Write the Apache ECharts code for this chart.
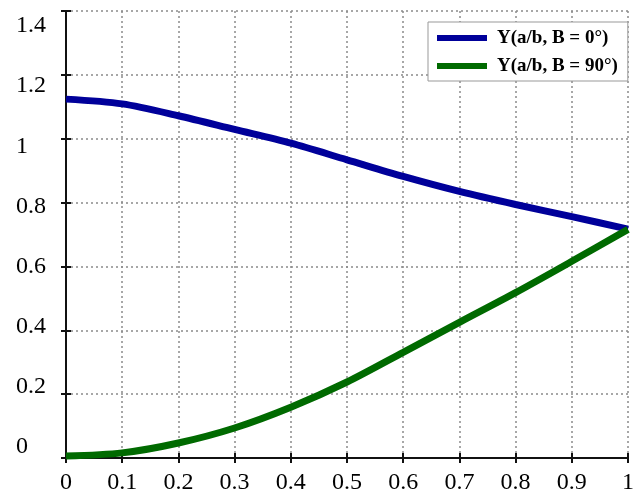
<!DOCTYPE html>
<html>
<head>
<meta charset="utf-8">
<script src="https://cdn.jsdelivr.net/npm/echarts@6/dist/echarts.min.js"></script>
<style>
    html, body { margin: 0; padding: 0; background: #fff; }
    #chart { width: 637px; height: 495px; }
</style>
</head>
<body>
<div id="chart"></div>
<script>
    // values
    var ratio = [0, 0.1, 0.2, 0.3, 0.4, 0.5, 0.6, 0.7, 0.8, 0.9, 1];
    var yB0  = [1.124, 1.109, 1.072, 1.029, 0.986, 0.934, 0.882, 0.835, 0.794, 0.756, 0.717];
    var yB90 = [0.006, 0.016, 0.047, 0.094, 0.159, 0.238, 0.331, 0.425, 0.518, 0.616, 0.716];
    var names = ['Y(a/b, B = 0°)', 'Y(a/b, B = 90°)'];

    function pairs(ys) {
        return ratio.map(function (x, i) { return [x, ys[i]]; });
    }

    var font = 'Liberation Serif, Times New Roman, serif';
    var gridLine = { show: true, lineStyle: { color: '#8a8a8a', width: 1.5, type: [2, 3] } };
    var frame = { show: true, lineStyle: { color: '#111', width: 2 } };
    var ticks = { show: true, inside: true, length: 5, lineStyle: { color: '#111', width: 2 } };

    var chart = echarts.init(document.getElementById('chart'));

    chart.setOption({
        animation: false,
        backgroundColor: '#fff',
        grid: [
            { left: 66, right: 5, top: 11, bottom: 36 },
            // label-only grid: the scanned y labels sit a little tighter than the ticks
            { left: 66, right: 5, top: 26, bottom: 48 }
        ],
        legend: {
            orient: 'vertical',
            left: 428,
            top: 22,
            padding: [6, 10, 5, 9],
            backgroundColor: '#fff',
            borderColor: '#999',
            borderWidth: 1,
            borderRadius: 0,
            icon: 'rect',
            itemWidth: 50,
            itemHeight: 6,
            itemGap: 8,
            textStyle: {
                fontFamily: font,
                fontSize: 19,
                fontWeight: 'bold',
                color: '#000',
                lineHeight: 20,
                padding: [0, 0, 0, 5]
            },
            data: names
        },
        xAxis: [
            {
                type: 'value', min: 0, max: 1, interval: 0.1,
                axisLine: frame, axisTick: ticks, splitLine: gridLine,
                axisLabel: {
                    margin: 13, fontFamily: font, fontSize: 24, color: '#000',
                    formatter: function (v) { return String(Math.round(v * 10) / 10); }
                }
            },
            {
                type: 'value', position: 'top', min: 0, max: 1, interval: 0.1,
                axisLine: frame, axisTick: ticks, splitLine: { show: false },
                axisLabel: { show: false }
            },
            {
                type: 'value', gridIndex: 1, min: 0, max: 1, show: false
            }
        ],
        yAxis: [
            {
                type: 'value', min: 0, max: 1.4, interval: 0.2,
                axisLine: frame, axisTick: ticks, splitLine: gridLine,
                axisLabel: { show: false }
            },
            {
                type: 'value', position: 'right', min: 0, max: 1.4, interval: 0.2,
                axisLine: frame, axisTick: ticks, splitLine: { show: false },
                axisLabel: { show: false }
            },
            {
                type: 'value', gridIndex: 1, min: 0, max: 1.4, interval: 0.2,
                axisLine: { show: false }, axisTick: { show: false }, splitLine: { show: false },
                axisLabel: {
                    align: 'left', margin: 50, fontFamily: font, fontSize: 24, color: '#000',
                    formatter: function (v) { return String(Math.round(v * 10) / 10); }
                }
            }
        ],
        series: [
            {
                name: names[0], type: 'line', smooth: 0.3, showSymbol: false,
                data: pairs(yB0),
                lineStyle: { color: '#00009a', width: 7 },
                itemStyle: { color: '#00009a' }
            },
            {
                name: names[1], type: 'line', smooth: 0.3, showSymbol: false,
                data: pairs(yB90),
                lineStyle: { color: '#006a00', width: 7 },
                itemStyle: { color: '#006a00' }
            }
        ]
    });
</script>
</body>
</html>
